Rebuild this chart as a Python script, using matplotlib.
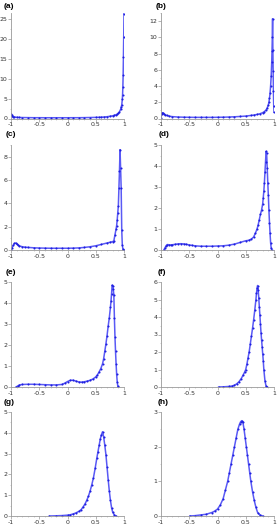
import matplotlib
matplotlib.use("Agg")
import matplotlib.pyplot as plt
from matplotlib.ticker import AutoMinorLocator

# values, one pair of lists per panel
xa = [-1.0, -0.99, -0.98, -0.96, -0.94, -0.9, -0.85, -0.8, -0.7, -0.6, -0.5, -0.4, -0.3, -0.2, -0.1,
      0.0, 0.1, 0.2, 0.3, 0.4, 0.5, 0.55, 0.6, 0.65, 0.7, 0.75, 0.8, 0.83, 0.86, 0.88, 0.9, 0.92,
      0.94, 0.95, 0.96, 0.97, 0.975, 0.98, 0.985, 0.99, 0.995, 1.0]
ya = [1.2, 0.8, 0.6, 0.45, 0.38, 0.3, 0.26, 0.24, 0.22, 0.2, 0.2, 0.19, 0.19, 0.19, 0.19,
      0.19, 0.2, 0.2, 0.22, 0.25, 0.28, 0.3, 0.33, 0.38, 0.45, 0.55, 0.68, 0.8, 0.95, 1.1, 1.35, 1.7,
      2.3, 2.8, 3.4, 4.8, 6.0, 8.0, 11.0, 15.5, 20.5, 26.3]

xb = [-1.0, -0.99, -0.98, -0.97, -0.95, -0.93, -0.9, -0.85, -0.8, -0.7, -0.6, -0.5, -0.4, -0.3, -0.2,
      -0.1, 0.0, 0.1, 0.2, 0.3, 0.4, 0.5, 0.6, 0.65, 0.7, 0.75, 0.8, 0.83, 0.86, 0.88, 0.9, 0.91,
      0.92, 0.93, 0.94, 0.95, 0.96, 0.965, 0.97, 0.975, 0.98, 0.985, 0.99, 0.995, 1.0]
yb = [0.1, 0.5, 0.7, 0.72, 0.6, 0.48, 0.38, 0.28, 0.23, 0.18, 0.16, 0.15, 0.14, 0.14, 0.14,
      0.14, 0.15, 0.16, 0.18, 0.21, 0.25, 0.3, 0.38, 0.43, 0.5, 0.58, 0.72, 0.85, 1.05, 1.3, 1.7, 2.0,
      2.5, 3.1, 4.0, 5.2, 7.0, 8.3, 10.0, 12.3, 8.4, 5.8, 3.4, 1.6, 0.8]

xc = [-1.0, -0.98, -0.96, -0.94, -0.92, -0.9, -0.88, -0.85, -0.8, -0.75, -0.7, -0.6, -0.5, -0.4, -0.3,
      -0.2, -0.1, 0.0, 0.1, 0.2, 0.3, 0.4, 0.5, 0.6, 0.7, 0.75, 0.8, 0.82, 0.84, 0.86, 0.87, 0.88,
      0.89, 0.9, 0.91, 0.92, 0.93, 0.94, 0.95, 0.96, 0.97, 0.98, 0.99, 1.0]
yc = [0.0, 0.2, 0.42, 0.56, 0.6, 0.55, 0.45, 0.35, 0.28, 0.24, 0.22, 0.19, 0.17, 0.16, 0.15,
      0.15, 0.15, 0.15, 0.16, 0.18, 0.22, 0.28, 0.36, 0.48, 0.6, 0.66, 0.72, 0.78, 1.3, 1.8, 2.1, 2.6,
      3.2, 3.8, 5.3, 6.8, 8.6, 7.0, 5.3, 1.7, 0.45, 0.1, 0.0, 0.0]

xd = [-0.95, -0.93, -0.91, -0.89, -0.86, -0.83, -0.8, -0.75, -0.7, -0.65, -0.6, -0.55, -0.5, -0.45, -0.4,
      -0.3, -0.2, -0.1, 0.0, 0.1, 0.2, 0.3, 0.4, 0.5, 0.55, 0.6, 0.64, 0.67, 0.7, 0.72, 0.74, 0.76,
      0.78, 0.8, 0.81, 0.82, 0.83, 0.84, 0.85, 0.86, 0.87, 0.88, 0.89, 0.9, 0.91, 0.92, 0.93, 0.94,
      0.95, 0.96]
yd = [0.0, 0.1, 0.2, 0.26, 0.25, 0.24, 0.25, 0.27, 0.29, 0.3, 0.29, 0.27, 0.24, 0.22, 0.2,
      0.18, 0.18, 0.18, 0.19, 0.2, 0.23, 0.28, 0.36, 0.44, 0.46, 0.52, 0.62, 0.8, 1.0, 1.2, 1.45, 1.7,
      1.9, 2.2, 2.5, 2.8, 3.2, 3.7, 4.2, 4.7, 4.6, 3.9, 3.2, 2.6, 1.9, 1.3, 0.8, 0.35,
      0.1, 0.0]

xe = [-0.91, -0.88, -0.85, -0.8, -0.7, -0.6, -0.5, -0.4, -0.3, -0.2, -0.1, -0.05, 0.0, 0.05, 0.1,
      0.15, 0.2, 0.25, 0.3, 0.35, 0.4, 0.45, 0.5, 0.53, 0.56, 0.59, 0.62, 0.64, 0.66, 0.68, 0.7, 0.72,
      0.74, 0.76, 0.77, 0.78, 0.79, 0.8, 0.81, 0.82, 0.83, 0.84, 0.85, 0.86, 0.87, 0.88, 0.89, 0.9]
ye = [0.0, 0.05, 0.1, 0.12, 0.13, 0.13, 0.12, 0.11, 0.1, 0.1, 0.12, 0.18, 0.26, 0.32, 0.32,
      0.28, 0.24, 0.23, 0.25, 0.28, 0.32, 0.38, 0.48, 0.58, 0.72, 0.88, 1.1, 1.35, 1.7, 2.05, 2.45, 2.9,
      3.3, 3.8, 4.1, 4.45, 4.85, 4.8, 4.65, 4.4, 3.3, 2.4, 1.7, 1.1, 0.6, 0.25, 0.05, 0.0]

xf = [0.02, 0.1, 0.2, 0.25, 0.3, 0.34, 0.38, 0.42, 0.45, 0.48, 0.5, 0.52, 0.54, 0.56, 0.58, 0.6,
      0.62, 0.64, 0.66, 0.68, 0.69, 0.7, 0.71, 0.72, 0.73, 0.74, 0.75, 0.76, 0.77, 0.78, 0.79, 0.8,
      0.81, 0.82, 0.84, 0.86, 0.88]
yf = [0.0, 0.01, 0.03, 0.05, 0.1, 0.18, 0.3, 0.48, 0.66, 0.85, 1.0, 1.3, 1.65, 2.0, 2.45, 2.9,
      3.35, 3.85, 4.4, 5.0, 5.35, 5.65, 5.8, 5.55, 5.1, 4.6, 4.1, 3.6, 3.1, 2.7, 2.3, 1.9,
      1.5, 1.0, 0.35, 0.05, 0.0]

xg = [-0.32, -0.2, -0.1, 0.0, 0.05, 0.1, 0.15, 0.2, 0.24, 0.28, 0.31, 0.34, 0.37, 0.4, 0.43, 0.46,
      0.49, 0.52, 0.54, 0.56, 0.58, 0.6, 0.62, 0.64, 0.66, 0.68, 0.7, 0.72, 0.74, 0.76, 0.78, 0.8,
      0.83, 0.86]
yg = [0.0, 0.01, 0.02, 0.04, 0.06, 0.1, 0.15, 0.22, 0.3, 0.45, 0.58, 0.75, 0.95, 1.2, 1.5, 1.85,
      2.3, 2.8, 3.1, 3.4, 3.7, 3.9, 4.05, 3.8, 3.4, 2.95, 2.35, 1.75, 1.2, 0.75, 0.4, 0.18,
      0.05, 0.0]

xh = [-0.49, -0.4, -0.3, -0.2, -0.1, -0.05, 0.0, 0.05, 0.1, 0.14, 0.18, 0.21, 0.24, 0.27, 0.3, 0.33,
      0.36, 0.39, 0.41, 0.43, 0.45, 0.47, 0.49, 0.51, 0.53, 0.55, 0.57, 0.59, 0.62, 0.65, 0.68, 0.71,
      0.75, 0.8]
yh = [0.0, 0.01, 0.03, 0.05, 0.1, 0.14, 0.2, 0.32, 0.5, 0.75, 1.0, 1.25, 1.5, 1.75, 2.0, 2.25,
      2.5, 2.65, 2.72, 2.75, 2.7, 2.5, 2.25, 2.0, 1.75, 1.5, 1.25, 1.0, 0.7, 0.45, 0.25, 0.1,
      0.03, 0.0]

labels = ["(a)", "(b)", "(c)", "(d)", "(e)", "(f)", "(g)", "(h)"]
xs = [xa, xb, xc, xd, xe, xf, xg, xh]
ys = [ya, yb, yc, yd, ye, yf, yg, yh]
ytop = [26.5, 13, 9, 5, 5, 6, 5, 3]
ystep = [5, 2, 2, 1, 1, 1, 1, 1]
xticks = [-1, -0.5, 0, 0.5, 1]
xticklabels = ["-1", "-0.5", "0", "0.5", "1"]

W, H = 279, 526
fig = plt.figure(figsize=(W / 100, H / 100), dpi=100)

# pixel boxes of the axes (left, right) per column and (top, bottom) per row
cols = [(11, 124), (161, 274)]
rows = [(13, 118.5), (145, 250), (282, 387), (412, 516)]
label_pos = [(4, 6), (156, 6), (6, 135), (159, 135), (6, 273), (158, 272), (4, 403), (158, 403)]

for i in range(8):
    l, r = cols[i % 2]
    t, b = rows[i // 2]
    ax = fig.add_axes([l / W, 1 - b / H, (r - l) / W, (b - t) / H])
    ax.plot(xs[i], ys[i], color="#5a5af5", lw=1.1, marker=".", ms=3,
            mfc="#1f1fe0", mec="#1f1fe0", mew=0)
    ax.set_xlim(-1, 1)
    ax.set_ylim(0, ytop[i])
    ax.set_xticks(xticks)
    ax.set_xticklabels(xticklabels)
    yt = list(range(0, int(ytop[i]) + 1, ystep[i]))
    ax.set_yticks(yt)
    ax.xaxis.set_minor_locator(AutoMinorLocator(5))
    ax.yaxis.set_minor_locator(AutoMinorLocator(2))
    for s in ["top", "right"]:
        ax.spines[s].set_visible(False)
    for s in ["left", "bottom"]:
        ax.spines[s].set_color("#999999")
        ax.spines[s].set_linewidth(0.6)
    ax.tick_params(which="major", length=2, width=0.5, color="#999999",
                   labelsize=4.5, pad=0.6, labelcolor="#333333")
    ax.tick_params(which="minor", length=1, width=0.4, color="#aaaaaa")
    ax.patch.set_alpha(0)
    lx, ly = label_pos[i]
    fig.text(lx / W, 1 - ly / H, labels[i], ha="left", va="center",
             fontsize=6, fontweight="bold", family="Liberation Sans")

fig.savefig("out.png", dpi=100)
